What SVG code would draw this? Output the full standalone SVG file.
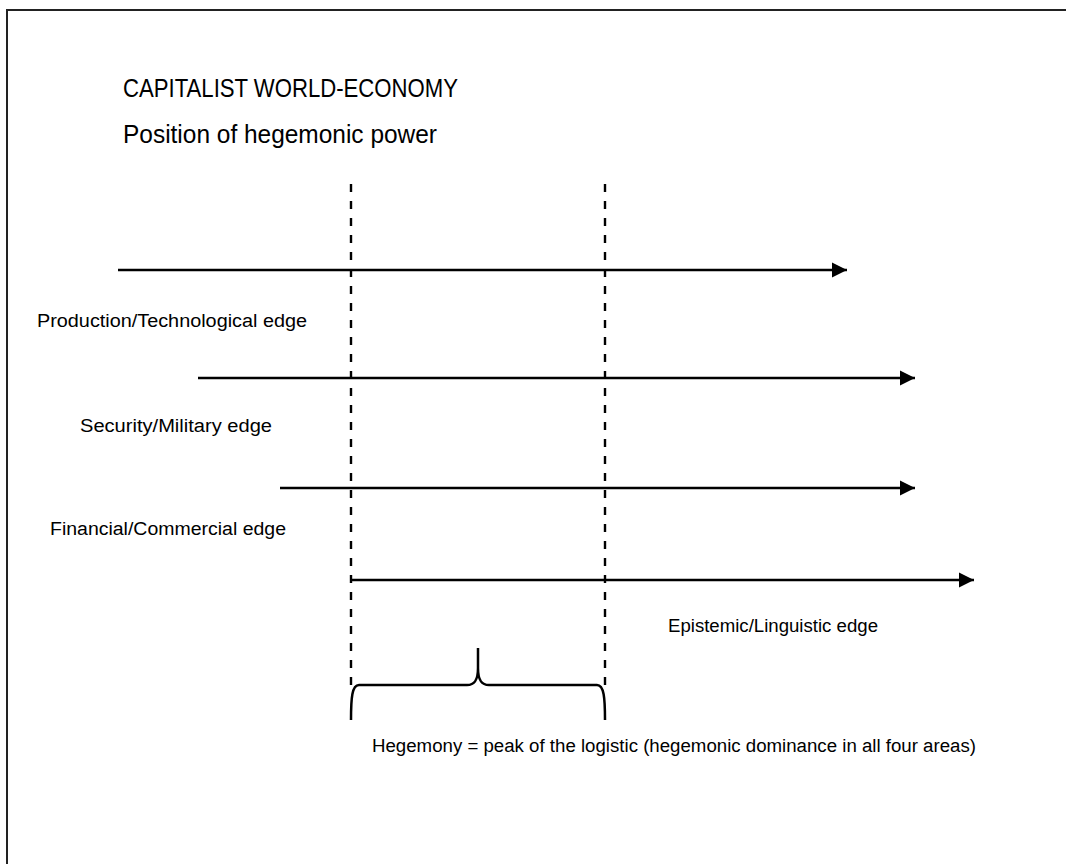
<svg xmlns="http://www.w3.org/2000/svg" width="1066" height="864" viewBox="0 0 1066 864">
<defs>
<style>
.t{font-family:"Liberation Sans",Arial,sans-serif;fill:#000}
.title{font-size:25px}
.lbl{font-size:18px}
.arr{stroke:#000;stroke-width:2.5;fill:none}
.dash{stroke:#000;stroke-width:2.4;stroke-dasharray:8 9;fill:none}
.brace{stroke:#000;stroke-width:2.5;fill:none}
</style>
<marker id="ah" viewBox="0 0 16 16" refX="15" refY="8" markerUnits="userSpaceOnUse" markerWidth="16" markerHeight="16" orient="auto">
<path d="M0,0.5 L15,8 L0,15.5 Z" fill="#000"/>
</marker>
</defs>
<rect x="0" y="0" width="1066" height="864" fill="#fff"/>
<rect id="frame" x="7" y="10" width="1090" height="890" fill="none" stroke="#222" stroke-width="2"/>
<g id="titles">
<text class="t title" x="123" y="97" textLength="335" lengthAdjust="spacingAndGlyphs">CAPITALIST WORLD-ECONOMY</text>
<text class="t title" x="123" y="143" textLength="314" lengthAdjust="spacingAndGlyphs">Position of hegemonic power</text>
</g>
<g id="connectors">
<line class="dash" x1="351" y1="184" x2="351" y2="690"/>
<line class="dash" x1="605" y1="184" x2="605" y2="690"/>
<line class="arr" x1="118" y1="270" x2="847" y2="270" marker-end="url(#ah)"/>
<line class="arr" x1="198" y1="378" x2="915" y2="378" marker-end="url(#ah)"/>
<line class="arr" x1="280" y1="488" x2="915" y2="488" marker-end="url(#ah)"/>
<line class="arr" x1="350" y1="580" x2="974" y2="580" marker-end="url(#ah)"/>
</g>
<g id="production"><text class="t lbl" x="37" y="327" textLength="270" lengthAdjust="spacingAndGlyphs">Production/Technological edge</text></g>
<g id="security"><text class="t lbl" x="80" y="432" textLength="192" lengthAdjust="spacingAndGlyphs">Security/Military edge</text></g>
<g id="financial"><text class="t lbl" x="50" y="535" textLength="236" lengthAdjust="spacingAndGlyphs">Financial/Commercial edge</text></g>
<g id="epistemic"><text class="t lbl" x="668" y="632" textLength="210" lengthAdjust="spacingAndGlyphs">Epistemic/Linguistic edge</text></g>
<g id="hegemony">
<path class="brace" d="M351,720 C351,698 352,685 359,685 L467,685 C474,685 478,681 478,668 L478,648 M478,668 C478,681 482,685 489,685 L597,685 C604,685 605,698 605,720"/>
<text class="t lbl" x="372" y="752" textLength="604" lengthAdjust="spacingAndGlyphs">Hegemony = peak of the logistic (hegemonic dominance in all four areas)</text>
</g>
</svg>
